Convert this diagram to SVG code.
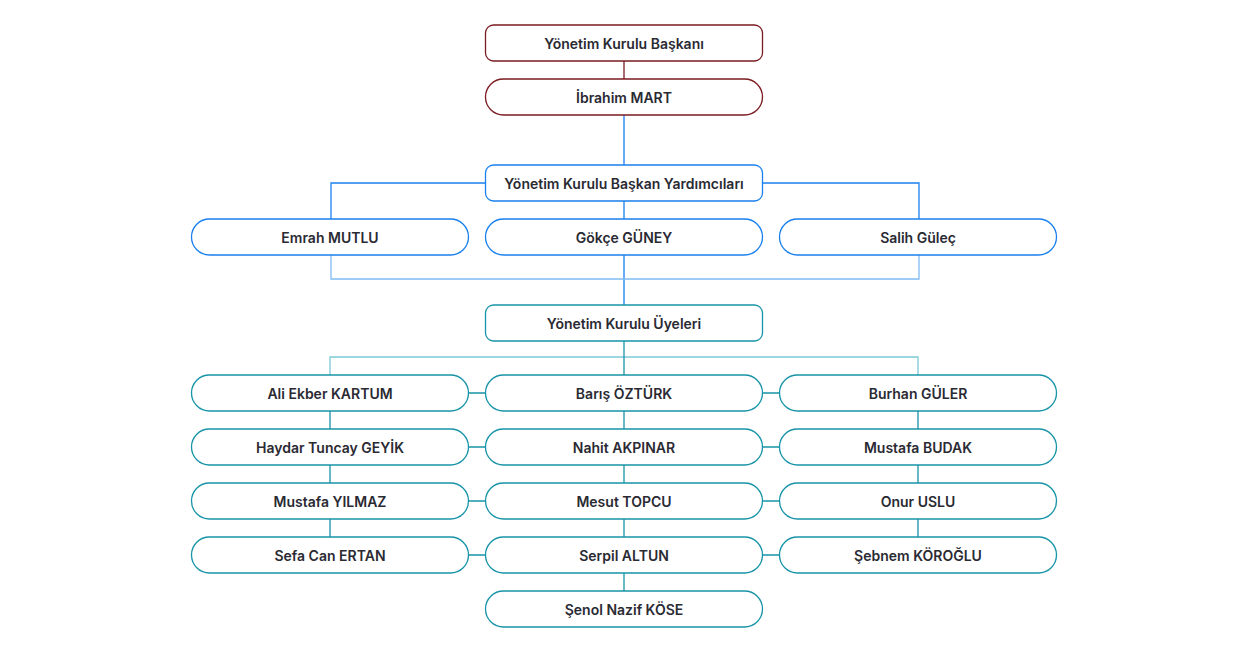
<svg xmlns="http://www.w3.org/2000/svg" width="1248" height="652" viewBox="0 0 1248 652">
<style>
text{font-family:Inter,"Noto Sans","Liberation Sans",sans-serif;font-size:14px;font-weight:600;fill:#2a2a33;text-anchor:middle;dominant-baseline:central}
.box{fill:#fff;stroke-width:1.3}
.red{stroke:#7a1c22}
.blue{stroke:#1a80ee}
.teal{stroke:#1894a8}
.c{fill:none;stroke-width:1.3}
.cred{stroke:#7a1c22}
.cblue{stroke:#1a80ee}
.cblueL{stroke:#80bbf5}
.cteal{stroke:#1894a8}
.ctealL{stroke:#7ccad6}
</style>
<rect width="1248" height="652" fill="#fff"/>
<g id="connectors">
<path class="c cred" d="M624 61V79"/>
<path class="c cblue" d="M624 115V165M486 183H331V219M762 183H919V219M624 201V219M624 255V305"/>
<path class="c cblueL" d="M331 255V279H919V255"/>
<path class="c ctealL" d="M330 375V357H918V375"/>
<path class="c cteal" d="M624 341V375"/>
<path class="c cteal" d="M468.5 393H485.5M762.5 393H779.5M468.5 447H485.5M762.5 447H779.5M468.5 501H485.5M762.5 501H779.5M468.5 555H485.5M762.5 555H779.5"/>
<path class="c cteal" d="M330 411V429M330 465V483M330 519V537M624 411V429M624 465V483M624 519V537M624 573V591M918 411V429M918 465V483M918 519V537"/>
</g>
<g id="n-baskan"><rect class="box red" x="485.5" y="25" width="277" height="36" rx="8"/><text x="624" y="43">Yönetim Kurulu Başkanı</text></g>
<g id="n-ibrahim"><rect class="box red" x="485.5" y="79" width="277" height="36" rx="18"/><text x="624" y="97">İbrahim MART</text></g>
<g id="n-yardimcilar"><rect class="box blue" x="485.5" y="165" width="277" height="36" rx="8"/><text x="624" y="183">Yönetim Kurulu Başkan Yardımcıları</text></g>
<g id="n-emrah"><rect class="box blue" x="191.5" y="219" width="277" height="36" rx="18"/><text x="330" y="237">Emrah MUTLU</text></g>
<g id="n-gokce"><rect class="box blue" x="485.5" y="219" width="277" height="36" rx="18"/><text x="624" y="237">Gökçe GÜNEY</text></g>
<g id="n-salih"><rect class="box blue" x="779.5" y="219" width="277" height="36" rx="18"/><text x="918" y="237">Salih Güleç</text></g>
<g id="n-uyeler"><rect class="box teal" x="485.5" y="305" width="277" height="36" rx="8"/><text x="624" y="323">Yönetim Kurulu Üyeleri</text></g>
<g id="n-ali"><rect class="box teal" x="191.5" y="375" width="277" height="36" rx="18"/><text x="330" y="393">Ali Ekber KARTUM</text></g>
<g id="n-haydar"><rect class="box teal" x="191.5" y="429" width="277" height="36" rx="18"/><text x="330" y="447">Haydar Tuncay GEYİK</text></g>
<g id="n-mustafay"><rect class="box teal" x="191.5" y="483" width="277" height="36" rx="18"/><text x="330" y="501">Mustafa YILMAZ</text></g>
<g id="n-sefa"><rect class="box teal" x="191.5" y="537" width="277" height="36" rx="18"/><text x="330" y="555">Sefa Can ERTAN</text></g>
<g id="n-baris"><rect class="box teal" x="485.5" y="375" width="277" height="36" rx="18"/><text x="624" y="393">Barış ÖZTÜRK</text></g>
<g id="n-nahit"><rect class="box teal" x="485.5" y="429" width="277" height="36" rx="18"/><text x="624" y="447">Nahit AKPINAR</text></g>
<g id="n-mesut"><rect class="box teal" x="485.5" y="483" width="277" height="36" rx="18"/><text x="624" y="501">Mesut TOPCU</text></g>
<g id="n-serpil"><rect class="box teal" x="485.5" y="537" width="277" height="36" rx="18"/><text x="624" y="555">Serpil ALTUN</text></g>
<g id="n-senol"><rect class="box teal" x="485.5" y="591" width="277" height="36" rx="18"/><text x="624" y="609">Şenol Nazif KÖSE</text></g>
<g id="n-burhan"><rect class="box teal" x="779.5" y="375" width="277" height="36" rx="18"/><text x="918" y="393">Burhan GÜLER</text></g>
<g id="n-mustafab"><rect class="box teal" x="779.5" y="429" width="277" height="36" rx="18"/><text x="918" y="447">Mustafa BUDAK</text></g>
<g id="n-onur"><rect class="box teal" x="779.5" y="483" width="277" height="36" rx="18"/><text x="918" y="501">Onur USLU</text></g>
<g id="n-sebnem"><rect class="box teal" x="779.5" y="537" width="277" height="36" rx="18"/><text x="918" y="555">Şebnem KÖROĞLU</text></g>
</svg>
